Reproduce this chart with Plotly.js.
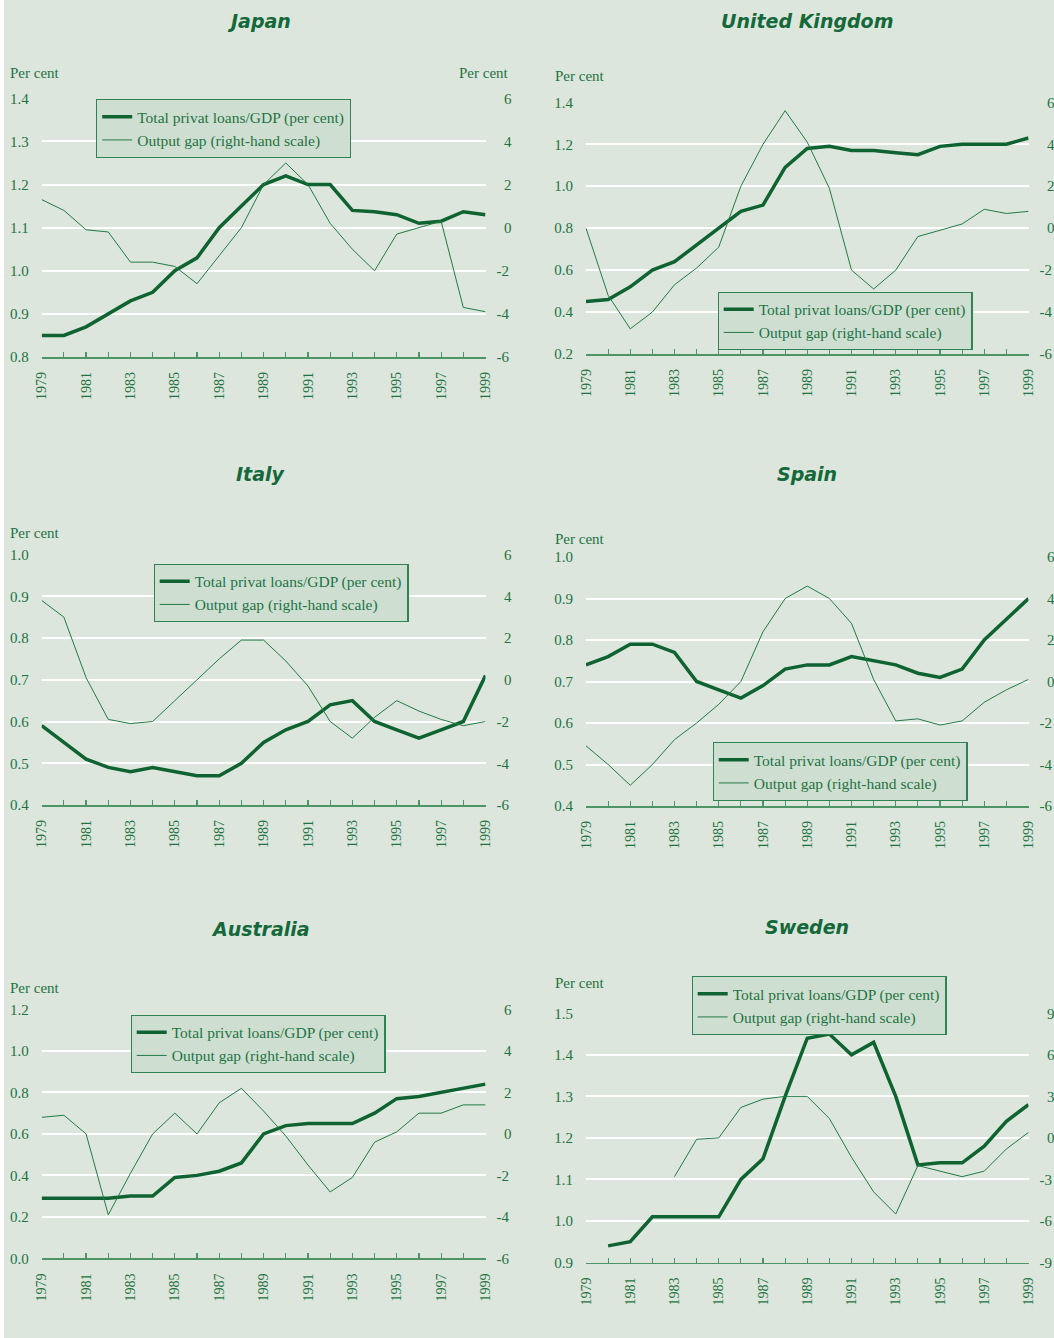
<!DOCTYPE html>
<html>
<head>
<meta charset="utf-8">
<script src="https://cdn.plot.ly/plotly-3.0.1.min.js"></script>
<style>
html,body{margin:0;padding:0;background:#ffffff;}
#chart{position:absolute;left:4px;top:0;width:1050px;height:1338px;}
</style>
</head>
<body>
<div id="chart"></div>
<script>
// ---------- DATA ----------
const years = [1979,1980,1981,1982,1983,1984,1985,1986,1987,1988,1989,1990,1991,1992,1993,1994,1995,1996,1997,1998,1999];

const japanLoans = [0.85,0.85,0.87,0.90,0.93,0.95,1.00,1.03,1.10,1.15,1.20,1.22,1.20,1.20,1.14,1.137,1.13,1.11,1.115,1.137,1.13];
const japanGap   = [1.3,0.8,-0.1,-0.2,-1.6,-1.6,-1.8,-2.6,-1.3,0.0,2.0,3.0,2.0,0.2,-1.0,-2.0,-0.3,0.0,0.3,-3.7,-3.9];

const ukLoans = [0.45,0.46,0.52,0.60,0.64,0.72,0.80,0.88,0.91,1.09,1.18,1.19,1.17,1.17,1.16,1.15,1.19,1.20,1.20,1.20,1.23];
const ukGap   = [0.0,-3.2,-4.8,-4.0,-2.7,-1.9,-0.9,2.0,4.0,5.6,4.1,1.9,-2.0,-2.9,-2.0,-0.4,-0.1,0.2,0.9,0.7,0.8];

const italyLoans = [0.59,0.55,0.51,0.49,0.48,0.49,0.48,0.47,0.47,0.50,0.55,0.58,0.60,0.64,0.65,0.60,0.58,0.56,0.58,0.60,0.71];
const italyGap   = [3.8,3.0,0.1,-1.9,-2.1,-2.0,-1.0,0.0,1.0,1.9,1.9,0.9,-0.3,-2.0,-2.8,-1.8,-1.0,-1.5,-1.9,-2.2,-2.0];

const spainLoans = [0.74,0.76,0.79,0.79,0.77,0.70,0.68,0.66,0.69,0.73,0.74,0.74,0.76,0.75,0.74,0.72,0.71,0.73,0.80,0.85,0.90];
const spainGap   = [-3.1,-4.0,-5.0,-4.0,-2.8,-2.0,-1.1,0.0,2.4,4.0,4.6,4.0,2.8,0.1,-1.9,-1.8,-2.1,-1.9,-1.0,-0.4,0.1];

const australiaLoans = [0.29,0.29,0.29,0.29,0.30,0.30,0.39,0.40,0.42,0.46,0.60,0.64,0.65,0.65,0.65,0.70,0.77,0.78,0.80,0.82,0.84];
const australiaGap   = [0.8,0.9,0.0,-3.9,-1.9,0.0,1.0,0.0,1.5,2.2,1.1,-0.1,-1.5,-2.8,-2.1,-0.4,0.1,1.0,1.0,1.4,1.4];

const swedenLoans = [null,0.94,0.95,1.01,1.01,1.01,1.01,1.10,1.15,1.30,1.44,1.45,1.40,1.43,1.30,1.135,1.14,1.14,1.18,1.24,1.28];
const swedenGap   = [null,null,null,null,-2.8,-0.1,0.0,2.2,2.8,3.0,3.0,1.4,-1.4,-3.9,-5.5,-2.0,-2.4,-2.8,-2.4,-0.8,0.4];

const countryNames = ["Japan","United Kingdom","Italy","Spain","Australia","Sweden"];
const loanName = "Total privat loans/GDP (per cent)";
const gapName  = "Output gap (right-hand scale)";
const unitLabel = "Per cent";

const gapTicks6 = [-6,-4,-2,0,2,4,6];
const gapLabels6 = ["-6","-4","-2","\u20070","\u20072","\u20074","\u20076"];
const gapTicks9 = [-9,-6,-3,0,3,6,9];
const gapLabels9 = ["-9","-6","-3","\u20070","\u20073","\u20076","\u20079"];

// ---------- STYLE / LAYOUT ----------
const W = 1050, H = 1338, OFF = 4;
const fx = p => (p - OFF) / W;
const fy = p => 1 - p / H;

const BG = '#dce6dc';
const TXT = '#1f7343';
const LINE_THICK = '#0f6330';
const LINE_THIN = '#237a45';
const AXIS = '#4d9466';
const serif = 'Liberation Serif, Times New Roman, serif';

const panels = [
  {loans: japanLoans, gap: japanGap, x0:41.7, x1:485.5, yb:357, yt:98.3, lrange:[0.8,1.4], ldt:0.1,
   gt:gapTicks6, gl:gapLabels6, grange:[-6,6],
   title:[259,21.5], per:[8,73], perR:[457,73], leg:[96,99]},
  {loans: ukLoans, gap: ukGap, x0:586, x1:1028.5, yb:354, yt:102.3, lrange:[0.2,1.4], ldt:0.2,
   gt:gapTicks6, gl:gapLabels6, grange:[-6,6],
   title:[807,21], per:[553,76], perR:null, leg:[717.5,291.5]},
  {loans: italyLoans, gap: italyGap, x0:41.7, x1:485.5, yb:805, yt:554.5, lrange:[0.4,1.0], ldt:0.1,
   gt:gapTicks6, gl:gapLabels6, grange:[-6,6],
   title:[260,474], per:[8,533], perR:null, leg:[153.5,563.5]},
  {loans: spainLoans, gap: spainGap, x0:586, x1:1028.5, yb:806, yt:557, lrange:[0.4,1.0], ldt:0.1,
   gt:gapTicks6, gl:gapLabels6, grange:[-6,6],
   title:[807,474], per:[553,539], perR:null, leg:[712.5,742]},
  {loans: australiaLoans, gap: australiaGap, x0:41.7, x1:485.5, yb:1258.3, yt:1009.5, lrange:[0.0,1.2], ldt:0.2,
   gt:gapTicks6, gl:gapLabels6, grange:[-6,6],
   title:[260,929], per:[8,988], perR:null, leg:[130.5,1014.5]},
  {loans: swedenLoans, gap: swedenGap, x0:586, x1:1028.5, yb:1262.5, yt:1013.3, lrange:[0.9,1.5], ldt:0.1,
   gt:gapTicks9, gl:gapLabels9, grange:[-9,9],
   title:[807,927], per:[553,983], perR:null, leg:[691.5,976]}
];

const data = [];
const layout = {
  width: W, height: H,
  margin: {l:0, r:0, t:0, b:0},
  paper_bgcolor: BG, plot_bgcolor: 'rgba(0,0,0,0)',
  showlegend: true,
  annotations: [],
  font: {family: serif, color: TXT, size: 15}
};

panels.forEach((p, i) => {
  const n = i + 1;
  const xa = n === 1 ? 'x' : 'x' + n;
  const yl = 2*n - 1, yr = 2*n;
  const ylName = yl === 1 ? 'y' : 'y' + yl;
  const yrName = 'y' + yr;
  const legName = n === 1 ? 'legend' : 'legend' + n;

  data.push({
    x: years, y: p.loans, type: 'scatter', mode: 'lines', name: loanName,
    xaxis: xa, yaxis: ylName, legend: legName,
    line: {color: LINE_THICK, width: 3.5}, connectgaps: false, hoverinfo: 'skip'
  });
  data.push({
    x: years, y: p.gap, type: 'scatter', mode: 'lines', name: gapName,
    xaxis: xa, yaxis: yrName, legend: legName,
    line: {color: LINE_THIN, width: 1}, connectgaps: false, hoverinfo: 'skip'
  });

  layout['xaxis' + (n === 1 ? '' : n)] = {
    domain: [fx(p.x0), fx(p.x1)], anchor: ylName,
    range: [1979, 1999], tick0: 1979, dtick: 2,
    showgrid: false, zeroline: false,
    showline: true, linecolor: AXIS, linewidth: 1.5,
    ticks: 'inside', ticklen: 5, tickcolor: AXIS, tickwidth: 1.2,
    minor: {dtick: 1, tick0: 1979, ticks: 'inside', ticklen: 5, tickcolor: AXIS, tickwidth: 1.2, showgrid: false},
    tickangle: -90, ticklabelstandoff: 8,
    tickfont: {family: serif, size: 14, color: TXT},
    fixedrange: true
  };
  layout['yaxis' + (yl === 1 ? '' : yl)] = {
    domain: [fy(p.yb), fy(p.yt)], anchor: xa,
    range: p.lrange, dtick: p.ldt, tick0: p.lrange[0], tickformat: '.1f',
    showgrid: true, gridcolor: '#ffffff', gridwidth: 2,
    zeroline: false, showline: false, ticks: '',
    ticklabelstandoff: 12,
    tickfont: {family: serif, size: 15, color: TXT},
    fixedrange: true
  };
  layout['yaxis' + yr] = {
    overlaying: ylName, anchor: xa, side: 'right',
    range: p.grange, tickvals: p.gt, ticktext: p.gl,
    showgrid: false, zeroline: false, showline: false, ticks: '',
    ticklabelstandoff: 10,
    tickfont: {family: serif, size: 15, color: TXT},
    fixedrange: true
  };
  layout[legName] = {
    x: fx(p.leg[0]), y: fy(p.leg[1]), xanchor: 'left', yanchor: 'top',
    bgcolor: '#cedfd2', bordercolor: '#2f8252', borderwidth: 1.2,
    font: {family: serif, size: 15.5, color: TXT},
    tracegroupgap: 0, itemwidth: 30
  };

  layout.annotations.push({
    xref: 'paper', yref: 'paper', x: fx(p.title[0]), y: fy(p.title[1]),
    xanchor: 'center', yanchor: 'middle', showarrow: false,
    text: '<b><i>' + countryNames[i] + '</i></b>',
    font: {family: 'DejaVu Sans, sans-serif', size: 19, color: '#14683a'}
  });
  layout.annotations.push({
    xref: 'paper', yref: 'paper', x: fx(p.per[0]), y: fy(p.per[1]),
    xanchor: 'left', yanchor: 'middle', showarrow: false,
    text: unitLabel, font: {family: serif, size: 15, color: TXT}
  });
  if (p.perR) {
    layout.annotations.push({
      xref: 'paper', yref: 'paper', x: fx(p.perR[0]), y: fy(p.perR[1]),
      xanchor: 'left', yanchor: 'middle', showarrow: false,
      text: unitLabel, font: {family: serif, size: 15, color: TXT}
    });
  }
});

Plotly.newPlot('chart', data, layout, {staticPlot: true, displayModeBar: false});
</script>
</body>
</html>
